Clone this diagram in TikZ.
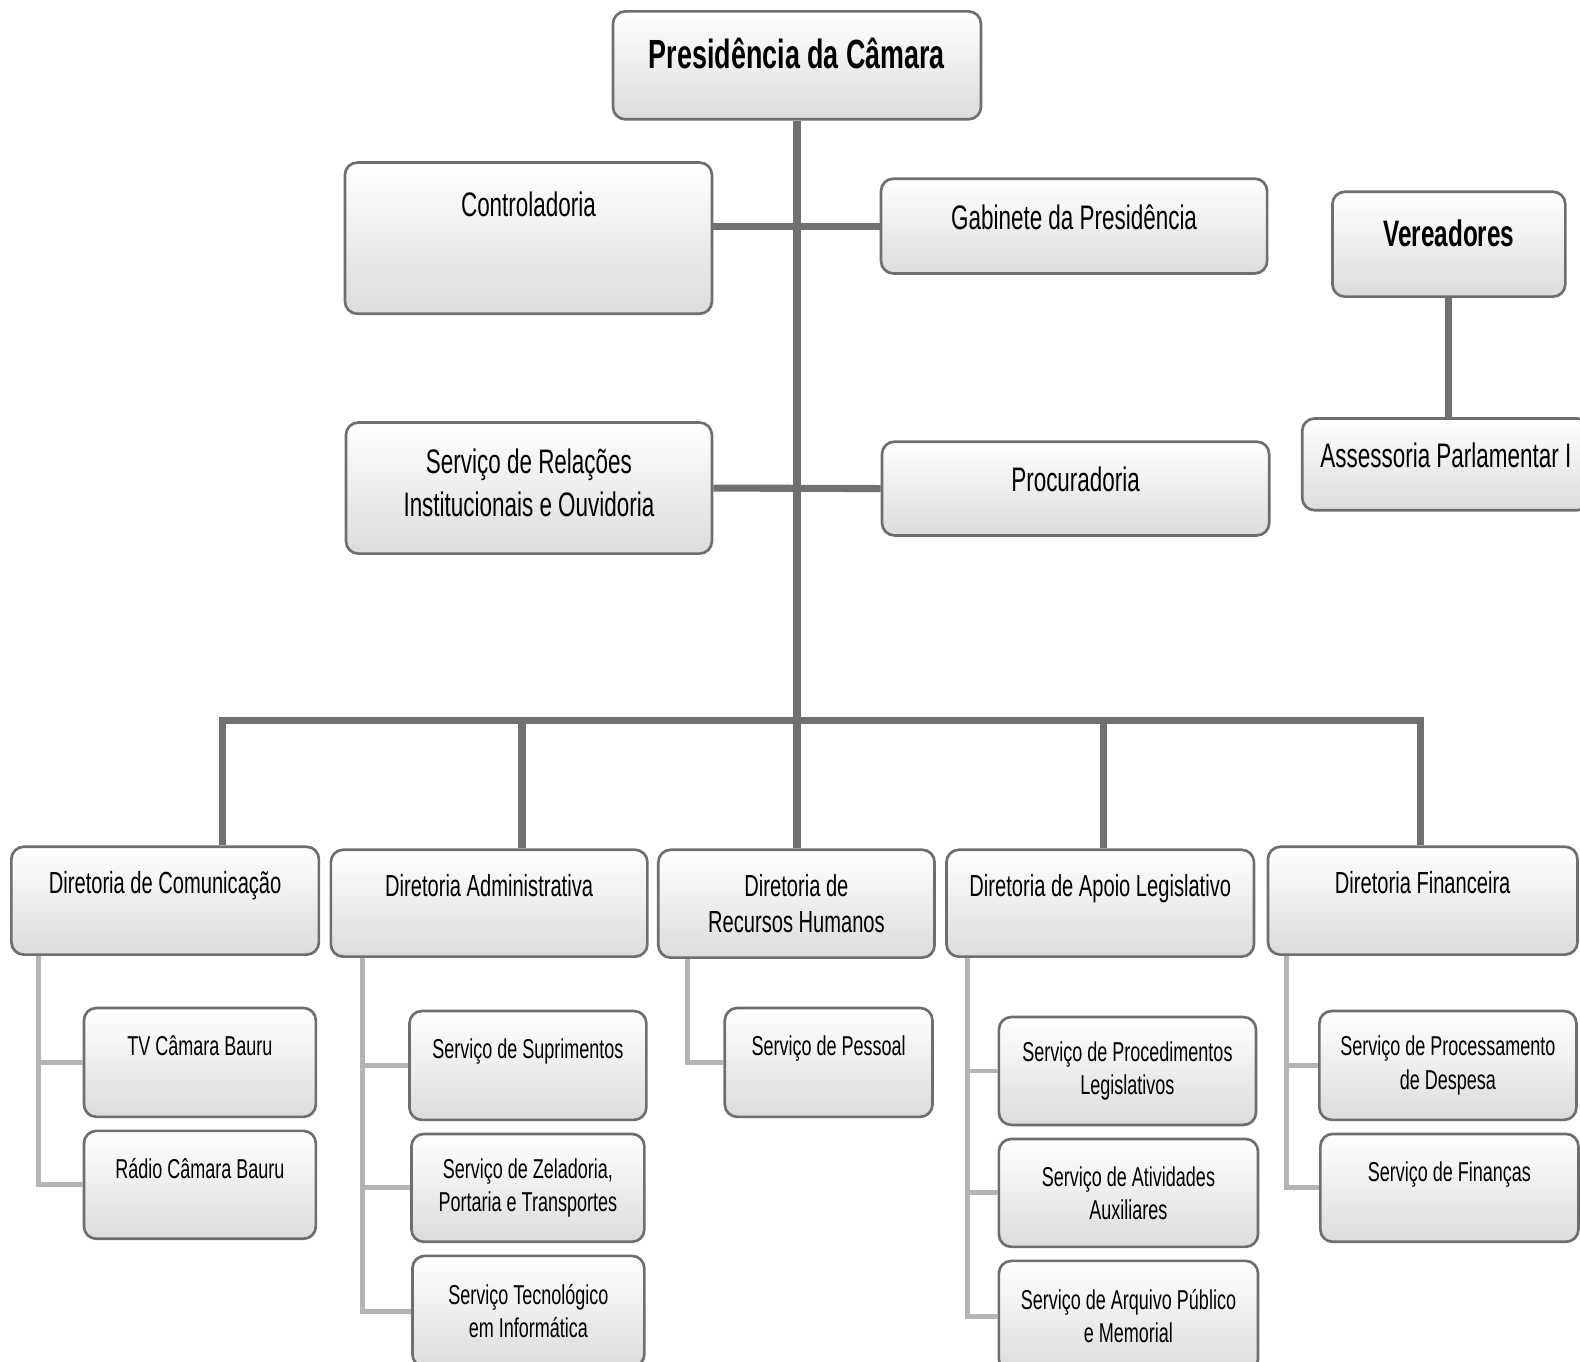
\documentclass[tikz,border=0pt]{standalone}
\usepackage{fontspec}
\setmainfont[FakeStretch=0.66]{Liberation Sans}
\usetikzlibrary{calc}
\definecolor{cinzaBorda}{HTML}{6E6E6E}
\definecolor{cinzaTronco}{HTML}{707070}
\definecolor{cinzaRamo}{HTML}{B4B4B4}
\definecolor{cinzaFundo}{HTML}{DCDCDC}
\tikzstyle{caixa} = [rectangle, rounded corners=3.5pt, draw=cinzaBorda, line width=0.75pt, top color=white, bottom color=cinzaFundo, align=center, inner sep=2pt]
\tikzstyle{chefe} = [caixa, font=\fontsize{11.5}{14}\selectfont\bfseries, text height=8.5pt, text depth=6.5pt]
\tikzstyle{orgao} = [caixa, font=\fontsize{9.6}{12}\selectfont]
\tikzstyle{linhaunica} = [text height=7pt, text depth=5.2pt]
\tikzstyle{diretoria} = [caixa, font=\fontsize{8.6}{10.2}\selectfont]
\tikzstyle{servico} = [caixa, font=\fontsize{7.7}{9.4}\selectfont]
\tikzstyle{tronco} = [draw=cinzaTronco, line width=2pt]
\tikzstyle{ramo} = [draw=cinzaRamo, line width=1.4pt]

\begin{document}
\begin{tikzpicture}[x=0.01cm, y=-0.01cm]

        \clip (0,0) rectangle (1568,1351);

        % topo
        \node (pres) [chefe, anchor=north west, minimum width=3.65cm, minimum height=1.07cm] at (607,10) {Presidência da Câmara};
        \node (ctrl) [orgao, anchor=north west, minimum width=3.64cm, minimum height=1.5cm] at (341,160) {Controladoria\\[7pt]\mbox{}};
        \node (gab) [orgao, linhaunica, anchor=north west, minimum width=3.83cm, minimum height=0.94cm] at (873,176) {Gabinete da Presidência};
        \node (rel) [orgao, anchor=north west, minimum width=3.63cm, minimum height=1.3cm] at (342,418) {Serviço de Relações\\Institucionais e Ouvidoria\\[-9pt]\mbox{}};
        \node (proc) [orgao, linhaunica, anchor=north west, minimum width=3.84cm, minimum height=0.93cm] at (874,437) {Procuradoria};
        \node (ver) [chefe, anchor=north west, minimum width=2.31cm, minimum height=1.04cm, font=\fontsize{10.4}{12}\selectfont\bfseries, text height=7.5pt, text depth=6.2pt] at (1321,189) {Vereadores};
        \node (ass) [orgao, linhaunica, anchor=north west, minimum width=2.85cm, minimum height=0.91cm] at (1291,414) {Assessoria Parlamentar I};

        % diretorias
        \node (dcom) [diretoria, anchor=north west, minimum width=3.05cm, minimum height=1.07cm] at (10,839) {Diretoria de Comunicação\\ \mbox{}};
        \node (dadm) [diretoria, anchor=north west, minimum width=3.14cm, minimum height=1.06cm] at (327,842) {Diretoria Administrativa\\ \mbox{}};
        \node (drh) [diretoria, anchor=north west, minimum width=2.74cm, minimum height=1.07cm] at (652,842) {Diretoria de\\Recursos Humanos};
        \node (dapo) [diretoria, anchor=north west, minimum width=3.05cm, minimum height=1.06cm] at (938,842) {Diretoria de Apoio Legislativo\\ \mbox{}};
        \node (dfin) [diretoria, anchor=north west, minimum width=3.07cm, minimum height=1.07cm] at (1257,839) {Diretoria Financeira\\ \mbox{}};

        % servicos
        \node (tv) [servico, anchor=north west, minimum width=2.3cm, minimum height=1.08cm] at (82,999) {TV Câmara Bauru\\ \mbox{}};
        \node (radio) [servico, anchor=north west, minimum width=2.3cm, minimum height=1.07cm] at (82,1121) {Rádio Câmara Bauru\\ \mbox{}};
        \node (supr) [servico, anchor=north west, minimum width=2.35cm, minimum height=1.08cm] at (405,1002) {Serviço de Suprimentos\\ \mbox{}};
        \node (zel) [servico, anchor=north west, minimum width=2.31cm, minimum height=1.07cm] at (407,1124) {Serviço de Zeladoria,\\Portaria e Transportes};
        \node (tec) [servico, anchor=north west, minimum width=2.3cm, minimum height=1.1cm] at (408,1245) {Serviço Tecnológico\\em Informática};
        \node (pess) [servico, anchor=north west, minimum width=2.06cm, minimum height=1.08cm] at (718,999) {Serviço de Pessoal\\ \mbox{}};
        \node (pleg) [servico, anchor=north west, minimum width=2.55cm, minimum height=1.07cm] at (990,1008) {Serviço de Procedimentos\\Legislativos};
        \node (ativ) [servico, anchor=north west, minimum width=2.57cm, minimum height=1.07cm] at (990,1129) {Serviço de Atividades\\Auxiliares};
        \node (arq) [servico, anchor=north west, minimum width=2.57cm, minimum height=1.1cm] at (990,1250) {Serviço de Arquivo Público\\e Memorial};
        \node (pdes) [servico, anchor=north west, minimum width=2.55cm, minimum height=1.08cm] at (1308,1002) {Serviço de Processamento\\de Despesa};
        \node (fin) [servico, anchor=north west, minimum width=2.56cm, minimum height=1.07cm] at (1309,1124) {Serviço de Finanças\\ \mbox{}};

        % ligacoes principais
        \coordinate (bE) at (221,715);
        \coordinate (b2) at (518,715);
        \coordinate (b4) at (1095,715);
        \coordinate (bD) at (1410,715);

        \draw[tronco] (pres.south) -- (pres.south |- drh.north);
        \draw[tronco] (ctrl.east |- gab.west) -- (gab.west);
        \draw[tronco] (rel.east) -- (proc.west);
        \draw[tronco] (ver.south) -- (ver.south |- ass.north);
        \draw[tronco] (bE |- dcom.north) -- (bE) -- (bD) -- (bD |- dfin.north);
        \draw[tronco] (b2) -- (b2 |- dadm.north);
        \draw[tronco] (b4) -- (b4 |- dapo.north);

        % ligacoes dos servicos
        \coordinate (rCom) at (38,0);
        \coordinate (rAdm) at (360,0);
        \coordinate (rRh) at (682,0);
        \coordinate (rApo) at (960,0);
        \coordinate (rFin) at (1277,0);

        \draw[ramo] (dcom.south -| rCom) |- (radio.west);
        \draw[ramo] (tv.west -| rCom) -- (tv.west);
        \draw[ramo] (dadm.south -| rAdm) |- (tec.west);
        \draw[ramo] (supr.west -| rAdm) -- (supr.west);
        \draw[ramo] (zel.west -| rAdm) -- (zel.west);
        \draw[ramo] (drh.south -| rRh) |- (pess.west);
        \draw[ramo] (dapo.south -| rApo) |- (arq.west);
        \draw[ramo] (pleg.west -| rApo) -- (pleg.west);
        \draw[ramo] (ativ.west -| rApo) -- (ativ.west);
        \draw[ramo] (dfin.south -| rFin) |- (fin.west);
        \draw[ramo] (pdes.west -| rFin) -- (pdes.west);

    \end{tikzpicture}
\end{document}
